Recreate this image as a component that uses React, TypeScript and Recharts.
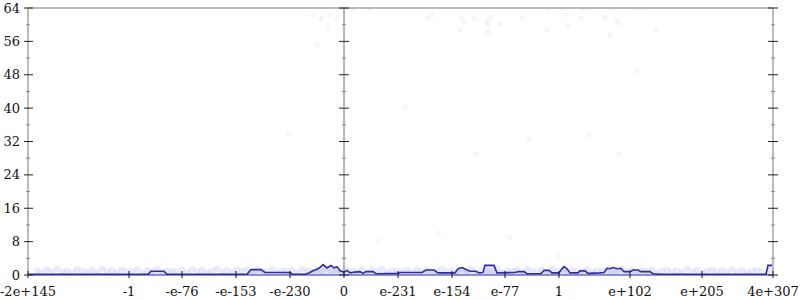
import React from 'react';
import { ComposedChart, Area, Scatter, XAxis, YAxis, ReferenceLine } from 'recharts';

const yTicks = [0, 4, 8, 12, 16, 20, 24, 28, 32, 36, 40, 44, 48, 52, 56, 60, 64];
const xTicks = [-316, -215, -162, -108, -54, 0, 54, 108, 161, 215, 286, 358, 429];
const xLabels = ['-2e+145', '-1', '-e-76', '-e-153', '-e-230', '0', 'e-231', 'e-154', 'e-77', '1', 'e+102', 'e+205', '4e+307'];

const lineU = [-316, -196, -193, -180, -177, -97, -93, -83, -79, -54, -51, -39, -35, -31, -27, -24, -21, -17, -13, -10, -7, -4, 0, 3, 6, 11, 16, 19, 22, 29, 32, 54, 56, 78, 82, 90, 94, 111, 114, 118, 122, 126, 132, 135, 139, 141, 150, 153, 171, 174, 180, 183, 197, 200, 205, 208, 215, 218, 220, 223, 226, 234, 236, 241, 244, 256, 260, 263, 266, 269, 273, 277, 280, 286, 289, 294, 297, 306, 309, 316, 422, 424, 429];
const lineV = [0.15, 0.15, 0.9, 0.9, 0.15, 0.15, 1.3, 1.3, 0.6, 0.6, 0.15, 0.15, 0.5, 1.0, 1.4, 1.8, 2.5, 1.7, 2.3, 1.7, 2.0, 1.0, 0.7, 1.1, 0.5, 0.7, 0.8, 0.4, 0.8, 0.8, 0.3, 0.4, 0.6, 0.6, 1.2, 1.2, 0.5, 0.5, 1.5, 1.8, 1.3, 0.9, 0.9, 0.5, 0.6, 2.3, 2.3, 0.5, 0.6, 0.8, 0.8, 0.3, 0.3, 1.1, 1.1, 0.5, 0.5, 1.5, 2.0, 1.5, 0.5, 0.5, 1.0, 1.0, 0.4, 0.5, 0.6, 1.6, 1.5, 1.8, 1.5, 1.6, 0.8, 0.8, 1.2, 1.2, 0.8, 0.8, 0.3, 0.15, 0.15, 2.3, 2.3];

const dotU = [-31, -23, -14, -7, -16, -27, 9, 26, 84, 88, 117, 120, 130, 147, 143, 144, 156, 178, 204, 219, 223, 239, 237, 224, 203, 116, 144, 261, 273, 275, 267, 296, 312, 266, 293, 61, 132, 185, 245, 275, 95, 166, 214, -55, 34];
const dotV = [62.1, 61.4, 62.1, 61.6, 59.4, 55.1, 64, 64, 61.6, 62.3, 61.6, 60.6, 61.4, 61.8, 60.6, 59.9, 60.2, 61.6, 64, 64, 62.3, 64, 61.6, 59.7, 58.7, 58.9, 58.2, 61.8, 61.1, 60.4, 64, 64, 58.9, 57.5, 48.9, 40.3, 29.0, 32.6, 33.6, 29.0, 10.1, 9.1, 4.6, 33.8, 8.1];

const bandU = [-307, -302, -297, -292, -287, -282, -277, -272, -267, -262, -257, -252, -247, -242, -237, -232, -227, -222, -217, -212, -207, -202, -197, -192, -187, -182, -177, -172, -167, -162, -157, -152, -147, -142, -137, -132, -127, -122, -117, -112, -107, -102, -97, -92, -87, -82, -77, -72, -67, -62, -57, -52, -47, -42, -37, -32, -27, -22, -17, -12, -7, -2, 3, 8, 13, 18, 23, 28, 33, 38, 43, 48, 53, 58, 63, 68, 73, 78, 83, 88, 93, 98, 103, 108, 113, 118, 123, 128, 133, 138, 143, 148, 153, 158, 163, 168, 173, 178, 183, 188, 193, 198, 203, 208, 213, 218, 223, 228, 233, 238, 243, 248, 253, 258, 263, 268, 273, 278, 283, 288, 293, 298, 303, 308, 313, 318, 323, 328, 333, 338, 343, 348, 353, 358, 363, 368, 373, 378, 383, 388, 393, 398, 403, 408, 413, 418, 423, 427];
const bandV = [1.0, 0.7, 1.3, 0.9, 1.5, 0.8, 1.1, 0.6, 1.4, 1.0, 0.8, 1.2, 0.7, 1.5, 0.9, 1.1, 0.6, 1.3, 1.0, 0.8, 1.4, 0.7, 1.2, 0.9, 1.5, 0.6, 1.1, 1.0, 0.8, 1.3, 0.7, 1.4, 0.9, 1.2, 0.6, 1.0, 1.5, 0.8, 1.1, 0.7, 1.3, 0.9, 1.4, 0.6, 1.2, 1.0, 0.8, 1.5, 0.7, 1.1, 0.9, 1.3, 0.6, 1.4, 1.0, 0.8, 1.2, 0.7, 1.5, 0.9, 1.1, 0.6, 1.3, 1.0, 0.8, 1.4, 0.7, 1.2, 0.9, 1.5, 0.6, 1.1, 1.0, 0.8, 1.3, 0.7, 1.4, 0.9, 1.2, 0.6, 1.0, 1.5, 0.8, 1.1, 0.7, 1.3, 0.9, 1.4, 0.6, 1.2, 1.0, 0.8, 1.5, 0.7, 1.1, 0.9, 1.3, 0.6, 1.4, 1.0, 0.8, 1.2, 0.7, 1.5, 0.9, 1.1, 0.6, 1.2, 0.8, 1.0, 1.4, 0.7, 1.1, 0.9, 1.3, 0.6, 1.0, 1.5, 0.8, 1.2, 0.7, 1.1, 0.9, 1.4, 0.6, 1.0, 1.3, 0.8, 1.1, 0.7, 1.5, 0.9, 1.2, 0.6, 1.0, 1.3, 0.8, 1.1, 0.7, 1.4, 0.9, 1.2, 0.6, 1.0, 1.3, 0.8];

const lineData = lineU.map((u, i) => ({ u, v: lineV[i] }));
const dotData = dotU.map((u, i) => ({ u, v: dotV[i] }));
const bandData = bandU.slice(0, Math.min(bandU.length, bandV.length)).map((u, i) => ({ u, v: bandV[i] }));

const FONT = 'DejaVu Serif';
const isMajor = (v: number) => v % 8 === 0;

const LeftTick = (props: any) => {
  const { x, y, payload } = props;
  const major = isMajor(payload.value);
  return (
    <g>
      <line x1={major ? x - 4 : x - 2} x2={major ? x + 5 : x + 2} y1={y} y2={y} stroke={major ? '#222' : '#888'} strokeWidth={1} />
      {major && (
        <text x={x - 8} y={y + 4.5} textAnchor="end" fontFamily={FONT} fontSize={13} fill="#111">
          {payload.value}
        </text>
      )}
    </g>
  );
};

const RightTick = (props: any) => {
  const { x, y, payload } = props;
  const major = isMajor(payload.value);
  return (
    <line x1={major ? x - 5 : x - 2} x2={major ? x + 5 : x + 2} y1={y} y2={y} stroke={major ? '#222' : '#888'} strokeWidth={1} />
  );
};

const BottomTick = (props: any) => {
  const { x, y, payload, index } = props;
  return (
    <g>
      <line x1={x} x2={x} y1={y - 4} y2={y + 3} stroke="#111" strokeWidth={1} />
      <text x={x} y={y + 21} textAnchor="middle" fontFamily={FONT} fontSize={13} fill="#111">
        {xLabels[index] ?? String(payload.value)}
      </text>
    </g>
  );
};

const DotShape = (props: any) => <circle cx={props.cx} cy={props.cy} r={2.6} fill="#5a5af0" fillOpacity={0.06} />;
const BandShape = (props: any) => <circle cx={props.cx} cy={props.cy} r={3.2} fill="#5a5af0" fillOpacity={0.12} />;

export default function App() {
  return (
    <div style={{ position: 'absolute', left: 0, top: 0, width: 800, height: 300, background: '#fff' }}>
      <ComposedChart width={800} height={300} margin={{ top: 8, right: 0, bottom: 0, left: 0 }}>
        <XAxis
          dataKey="u"
          type="number"
          domain={[-316, 429]}
          ticks={xTicks}
          interval={0}
          height={25}
          tickLine={false}
          tickSize={0}
          tickMargin={0}
          axisLine={{ stroke: '#2a2a9c', strokeWidth: 1 }}
          tick={<BottomTick />}
          allowDataOverflow
        />
        <YAxis
          yAxisId="l"
          orientation="left"
          type="number"
          domain={[0, 64]}
          ticks={yTicks}
          interval={0}
          width={28}
          tickLine={false}
          tickSize={0}
          tickMargin={0}
          axisLine={{ stroke: '#bbbbbb', strokeWidth: 2 }}
          tick={<LeftTick />}
          allowDataOverflow
        />
        <YAxis
          yAxisId="r"
          orientation="right"
          type="number"
          domain={[0, 64]}
          ticks={yTicks}
          interval={0}
          width={27}
          tickLine={false}
          tickSize={0}
          tickMargin={0}
          axisLine={{ stroke: '#bbbbbb', strokeWidth: 2 }}
          tick={<RightTick />}
          allowDataOverflow
        />
        <ReferenceLine yAxisId="l" y={64} stroke="#bbbbbb" strokeWidth={2} />
        <ReferenceLine yAxisId="l" x={0} stroke="#707070" strokeWidth={1} />
        {yTicks.map((t) => (
          <ReferenceLine
            key={'m' + t}
            yAxisId="l"
            segment={isMajor(t) ? [{ x: -5, y: t }, { x: 5, y: t }] : [{ x: -2, y: t }, { x: 2, y: t }]}
            stroke={isMajor(t) ? '#222' : '#888'}
            strokeWidth={1}
            ifOverflow="visible"
          />
        ))}
        <Scatter yAxisId="l" data={bandData} dataKey="v" shape={<BandShape />} isAnimationActive={false} />
        <Scatter yAxisId="l" data={dotData} dataKey="v" shape={<DotShape />} isAnimationActive={false} />
        <Area
          yAxisId="l"
          data={lineData}
          dataKey="v"
          type="linear"
          stroke="#2a2a9c"
          strokeWidth={1.6}
          fill="#8080e8"
          fillOpacity={0.2}
          dot={false}
          activeDot={false}
          isAnimationActive={false}
        />
      </ComposedChart>
    </div>
  );
}
